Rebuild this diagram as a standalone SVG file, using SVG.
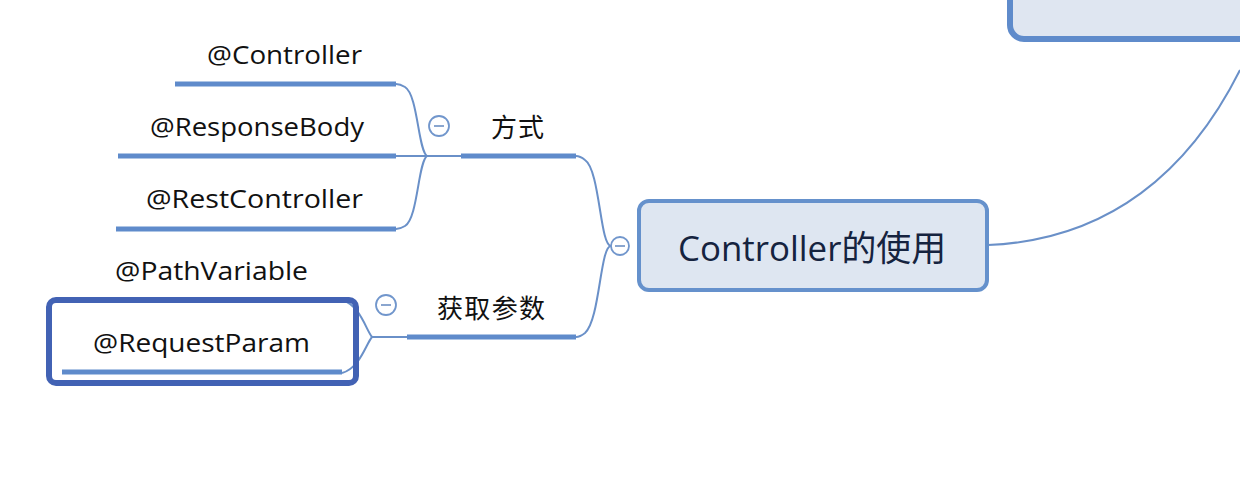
<svg xmlns="http://www.w3.org/2000/svg" width="1240" height="500" viewBox="0 0 1240 500">
<style>
.t{font-family:"Open Sans","Noto Sans CJK SC",sans-serif;font-size:25px;fill:#111;}
.c{font-family:"Noto Sans CJK SC",sans-serif;font-size:26px;fill:#111;}
.ul{stroke:#5f8bcb;stroke-width:5;fill:none;}
.ln{stroke:#6a90c8;stroke-width:2;fill:none;}
.col{fill:#fff;stroke:#7196cc;stroke-width:1.8;}
.mn{stroke:#8aa6cf;stroke-width:2;}
</style>
<rect width="1240" height="500" fill="#fff"/>
<g id="connectors">
<path class="ln" d="M988,245 C1110,240 1190,170 1240,70"/>
<path class="ln" d="M611,246 C600,246 600,170 585,160 Q580,156 576,156"/>
<path class="ln" d="M611,246 C600,246 600,320 585,333 Q580,337 576,337"/>
<path class="ln" d="M461,156 L427,156"/>
<path class="ln" d="M427,156 C418,150 418,95 405,87 Q400,84 396,84"/>
<path class="ln" d="M427,156 L396,156"/>
<path class="ln" d="M427,156 C418,162 418,218 405,226 Q400,229 396,229"/>
<path class="ln" d="M407,337 L372,337"/>
<path class="ln" d="M372,337 C366,330 360,305 342,300"/>
<path class="ln" d="M372,337 C366,344 360,368 342,373"/>
</g>
<g id="top-node">
<rect x="1010" y="-30" width="260" height="69" rx="14" fill="#dfe6f1" stroke="#5f8bcb" stroke-width="6"/>
</g>
<g id="center">
<rect x="639" y="201" width="348" height="89" rx="10" fill="#dee6f1" stroke="#6591cc" stroke-width="4"/>
<text x="678" y="261" textLength="268" lengthAdjust="spacingAndGlyphs" font-family="'Open Sans','Noto Sans CJK SC',sans-serif" font-size="35" fill="#15233f">Controller的使用</text>
<circle class="col" cx="620" cy="246" r="9"/>
<line class="mn" x1="615" y1="246" x2="625" y2="246"/>
</g>
<g id="fangshi">
<line class="ul" x1="461" y1="156" x2="576" y2="156"/>
<text class="c" x="491" y="137" textLength="53">方式</text>
<circle class="col" cx="439" cy="126" r="10"/>
<line class="mn" x1="434" y1="126" x2="444" y2="126"/>
</g>
<g id="controller">
<line class="ul" x1="175" y1="84" x2="396" y2="84"/>
<text class="t" x="207" y="64" textLength="155" lengthAdjust="spacingAndGlyphs">@Controller</text>
</g>
<g id="responsebody">
<line class="ul" x1="118" y1="156" x2="396" y2="156"/>
<text class="t" x="150" y="136" textLength="214" lengthAdjust="spacingAndGlyphs">@ResponseBody</text>
</g>
<g id="restcontroller">
<line class="ul" x1="116" y1="229" x2="396" y2="229"/>
<text class="t" x="146" y="208" textLength="217" lengthAdjust="spacingAndGlyphs">@RestController</text>
</g>
<g id="huoqucanshu">
<line class="ul" x1="407" y1="337" x2="576" y2="337"/>
<text class="c" x="437" y="318" textLength="108">获取参数</text>
<circle class="col" cx="386" cy="305" r="10"/>
<line class="mn" x1="381" y1="305" x2="391" y2="305"/>
</g>
<g id="pathvariable">
<line x1="82" y1="300" x2="342" y2="300" stroke="#3c5cb3" stroke-width="5"/>
<text class="t" x="115" y="280" textLength="193" lengthAdjust="spacingAndGlyphs">@PathVariable</text>
</g>
<g id="requestparam">
<rect x="49" y="300" width="307" height="83" rx="7" fill="none" stroke="#4262b4" stroke-width="6"/>
<line class="ul" x1="62" y1="372" x2="342" y2="372"/>
<text class="t" x="93" y="352" textLength="217" lengthAdjust="spacingAndGlyphs">@RequestParam</text>
</g>
</svg>
